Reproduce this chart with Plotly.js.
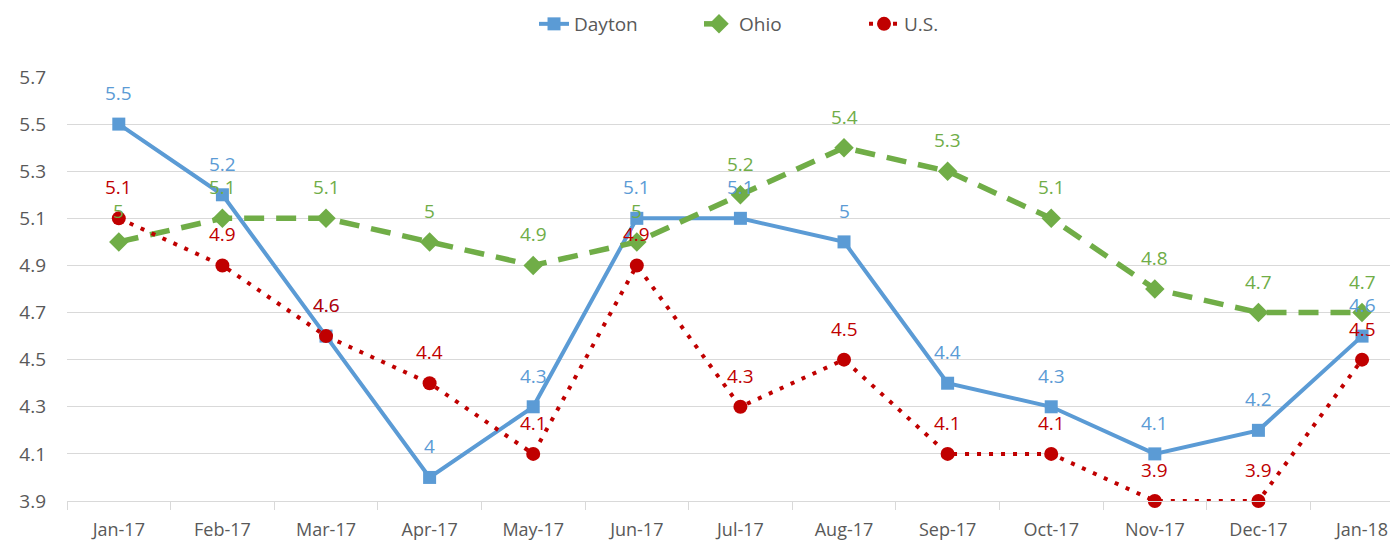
<!DOCTYPE html>
<html>
<head>
<meta charset="utf-8">
<script src="https://cdn.plot.ly/plotly-3.0.1.min.js"></script>
<style>html,body{margin:0;padding:0;background:#fff;}#chart{width:1390px;height:542px;}</style>
</head>
<body>
<div id="chart"></div>
<script>
const months = ["Jan-17","Feb-17","Mar-17","Apr-17","May-17","Jun-17","Jul-17","Aug-17","Sep-17","Oct-17","Nov-17","Dec-17","Jan-18"];
const dayton = [5.5,5.2,4.6,4.0,4.3,5.1,5.1,5.0,4.4,4.3,4.1,4.2,4.6];
const ohio = [5.0,5.1,5.1,5.0,4.9,5.0,5.2,5.4,5.3,5.1,4.8,4.7,4.7];
const us = [5.1,4.9,4.6,4.4,4.1,4.9,4.3,4.5,4.1,4.1,3.9,3.9,4.5];
const yTicks = [3.9,4.1,4.3,4.5,4.7,4.9,5.1,5.3,5.5,5.7];

const font = "Open Sans, Liberation Sans, sans-serif";
const seriesDefs = [
  {name: "Dayton", y: dayton, color: "#5B9BD5", dash: "solid", width: 4, symbol: "square", size: 13},
  {name: "Ohio", y: ohio, color: "#70AD47", dash: "20px,12px", width: 5.5, symbol: "diamond", size: 15},
  {name: "U.S.", y: us, color: "#C00000", dash: "4px,8px", width: 4, symbol: "circle", size: 14}
];
const data = seriesDefs.map(s => ({
  x: months, y: s.y, name: s.name, type: "scatter", mode: "lines+markers",
  line: {color: s.color, dash: s.dash, width: s.width},
  marker: {color: s.color, symbol: s.symbol, size: s.size},
  cliponaxis: false
}));
const annotations = [];
seriesDefs.forEach(s => {
  s.y.forEach((v, i) => {
    annotations.push({x: months[i], y: v, xref: "x", yref: "y", text: String(v),
      showarrow: false, yshift: 31, font: {color: s.color, size: 19, family: font}});
  });
});
const layout = {
  width: 1390, height: 542,
  margin: {l: 67, r: 0, t: 77, b: 41},
  paper_bgcolor: "#fff", plot_bgcolor: "#fff",
  font: {family: font, size: 19, color: "#595959"},
  showlegend: true,
  legend: {orientation: "h", x: 0.353, xanchor: "left", y: 1.125, yanchor: "middle",
           entrywidth: 120, entrywidthmode: "pixels",
           font: {size: 19, color: "#595959"}},
  annotations: annotations,
  xaxis: {
    type: "category", range: [-0.5, 12.27],
    showgrid: false, showline: true, linecolor: "#D9D9D9", linewidth: 1,
    ticks: "outside", tickson: "boundaries", ticklen: 8, tickcolor: "#D9D9D9",
    ticklabelstandoff: 12,
    tickfont: {size: 18, color: "#595959"}, fixedrange: true
  },
  yaxis: {
    range: [3.9, 5.7], tickmode: "array", tickvals: yTicks, ticktext: yTicks.map(v => v.toFixed(1)),
    showgrid: true, gridcolor: "#D9D9D9", gridwidth: 1, zeroline: false, showline: false,
    ticks: "", ticklabelstandoff: 20,
    tickfont: {size: 19, color: "#595959"}
  }
};
Plotly.newPlot("chart", data, layout, {displayModeBar: false, staticPlot: true});
</script>
</body>
</html>
